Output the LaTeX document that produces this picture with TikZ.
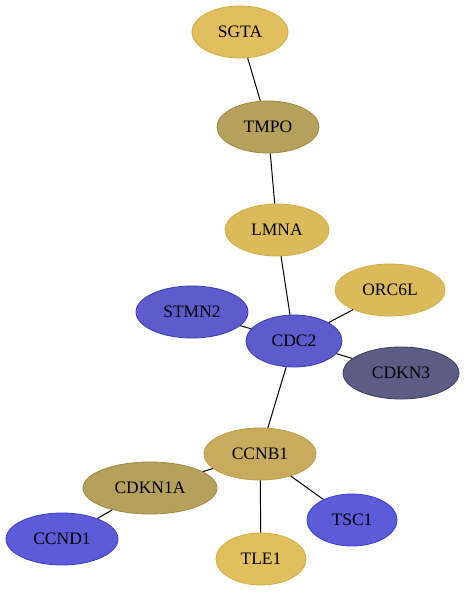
\documentclass[tikz,border=0pt]{standalone}
\usepackage{fontspec}
\setmainfont{Liberation Serif}
\usetikzlibrary{shapes.geometric}
\definecolor{ylw}{HTML}{E1BF5E}\definecolor{ylwd}{HTML}{D2AD3E}
\definecolor{ylw2}{HTML}{DBBA5C}
\definecolor{olv}{HTML}{B5A05C}\definecolor{olvd}{HTML}{A08A40}
\definecolor{ccn}{HTML}{C8AB5C}\definecolor{ccnd}{HTML}{BB9B42}
\definecolor{blu}{HTML}{5C5CCC}\definecolor{blud}{HTML}{3A3AB8}
\definecolor{blu2}{HTML}{5C5CD8}\definecolor{blu2d}{HTML}{3B3BD0}
\definecolor{slt}{HTML}{5C5C84}\definecolor{sltd}{HTML}{3A3A60}
\begin{document}
\begin{tikzpicture}[x=1pt,y=-1pt,
  gene/.style={ellipse,inner sep=0pt,line width=0.8pt,font=\fontsize{17.5}{20}\selectfont},
  edge/.style={line width=1pt,black}]
\useasboundingbox (0,0) rectangle (465,593);
\node[gene,fill=ylw,draw=ylwd,minimum width=96,minimum height=52] (SGTA) at (240,32) {SGTA};
\node[gene,fill=olv,draw=olvd,minimum width=102,minimum height=52] (TMPO) at (268,127) {TMPO};
\node[gene,fill=ylw2,draw=ylwd,minimum width=104,minimum height=52] (LMNA) at (277,230) {LMNA};
\node[gene,fill=ylw2,draw=ylwd,minimum width=110,minimum height=52] (ORC6L) at (390,290) {ORC6L};
\node[gene,fill=blu,draw=blud,minimum width=112,minimum height=52] (STMN2) at (192,312) {STMN2};
\node[gene,fill=blu,draw=blud,minimum width=96,minimum height=52] (CDC2) at (294,341) {CDC2};
\node[gene,fill=slt,draw=sltd,minimum width=116,minimum height=52] (CDKN3) at (401,373) {CDKN3};
\node[gene,fill=ccn,draw=ccnd,minimum width=112,minimum height=52] (CCNB1) at (260,454) {CCNB1};
\node[gene,fill=olv,draw=olvd,minimum width=134,minimum height=52] (CDKN1A) at (150,488) {CDKN1A};
\node[gene,fill=blu2,draw=blu2d,minimum width=90,minimum height=52] (TSC1) at (352,520) {TSC1};
\node[gene,fill=blu2,draw=blu2d,minimum width=112,minimum height=52] (CCND1) at (62,539) {CCND1};
\node[gene,fill=ylw,draw=ylwd,minimum width=90,minimum height=52] (TLE1) at (261,559) {TLE1};
\draw[edge] (SGTA) -- (TMPO);
\draw[edge] (TMPO) -- (LMNA);
\draw[edge] (LMNA) -- (CDC2);
\draw[edge] (CDC2) -- (ORC6L);
\draw[edge] (STMN2) -- (CDC2);
\draw[edge] (CDC2) -- (CDKN3);
\draw[edge] (CDC2) -- (CCNB1);
\draw[edge] (CDKN1A) -- (CCNB1);
\draw[edge] (CCNB1) -- (TLE1);
\draw[edge] (CCNB1) -- (TSC1);
\draw[edge] (CCND1) -- (CDKN1A);
\end{tikzpicture}
\end{document}
